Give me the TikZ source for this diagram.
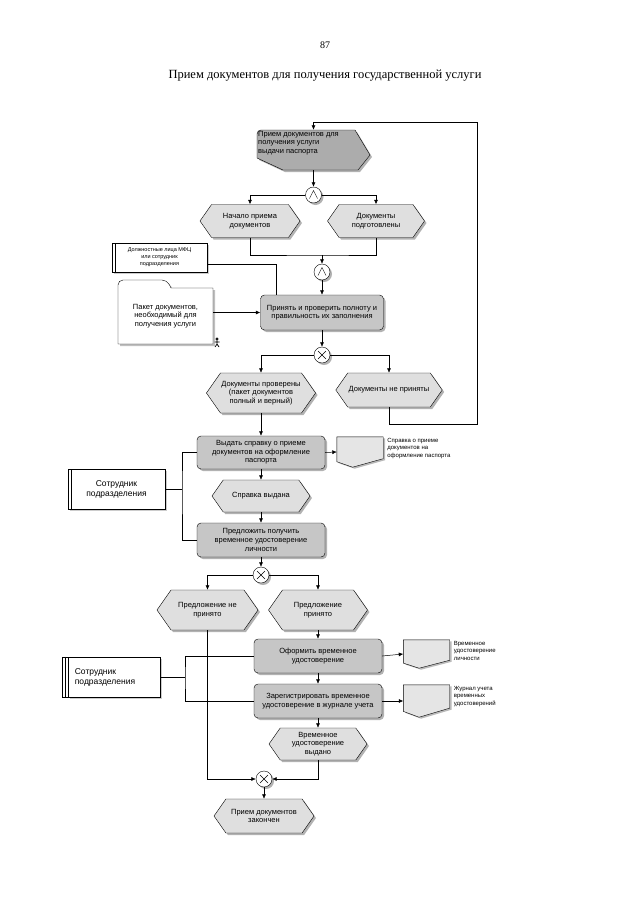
\documentclass[tikz,border=0pt]{standalone}
\usepackage{fontspec}
\setmainfont{Liberation Serif}
\setsansfont{Liberation Sans}
\usetikzlibrary{arrows.meta,shapes.symbols,shadows,calc}

% document symbol drawn on the frame of a node
\newcommand\docshape[1]{%
  \draw[docsty] (#1.north west) -- (#1.north east) -- ($(#1.north east)!0.72!(#1.south east)$)
    -- ($(#1.south west)!0.34!(#1.south east)$) -- ($(#1.north west)!0.82!(#1.south west)$) -- cycle;}

\begin{document}
\begin{tikzpicture}[x=1pt,y=-1pt,
    every node/.style={font=\sffamily\fontsize{7.5}{8.6}\selectfont, inner sep=1pt, align=center},
    shad/.style={drop shadow={shadow xshift=2pt,shadow yshift=-2pt,fill=gray!60,opacity=1}},
    event/.style={signal, signal to=west and east, signal pointer angle=110, draw, fill=gray!25, shad},
    func/.style={rectangle, rounded corners=4pt, draw, fill=gray!45, shad},
    gate/.style={circle, draw, fill=white, minimum size=16pt, inner sep=0pt, shad},
    orgu/.style={rectangle, draw, fill=white, drop shadow={shadow xshift=1.5pt,shadow yshift=-1.5pt,fill=gray!40,opacity=1}},
    docbox/.style={rectangle, minimum width=46pt, inner sep=0pt},
    docsty/.style={draw, fill=gray!20, drop shadow={shadow xshift=2pt,shadow yshift=-1.5pt,fill=gray!55,opacity=1}},
    doctxt/.style={anchor=north west, align=left, font=\sffamily\fontsize{6}{7.5}\selectfont},
    arr/.style={-{Latex[length=4.5pt,width=4pt]}},
    conn/.style={line width=0.5pt}]
  \useasboundingbox (0,0) rectangle (640,905);

  \node[font=\rmfamily\fontsize{10}{12}\selectfont] (pnum) at (325,45) {87};
  \node[font=\rmfamily\fontsize{12.5}{15}\selectfont] (title) at (325,76) {Прием документов для получения государственной услуги};

  % start event
  \draw[fill=gray!65, shad] [rounded corners=4pt] (257,158) -- (257,130) [sharp corners] -- (355,130) -- (370,155) -- (358,170) -- (283,170) -- cycle;
  \node[minimum width=113pt, minimum height=40pt, inner sep=0pt] (start) at (313.5,150) {};
  \node[anchor=north west, align=left, font=\sffamily\fontsize{7.5}{8.5}\selectfont] (starttxt) at (257,130) {Прием документов для\\получения услуги\\выдачи паспорта};

  \node[gate] (g1) at (313.5,195) {};
  \draw (g1.center) ++(-4,3.5) -- ++(4,-8) -- ++(4,8);
  \node[event, minimum width=100pt, minimum height=33pt] (e1) at (250,221) {Начало приема\\документов};
  \node[event, minimum width=97pt, minimum height=33pt] (e2) at (376,221) {Документы\\подготовлены};
  \node[gate] (g2) at (322,272) {};
  \draw (g2.center) ++(-4,3.5) -- ++(4,-8) -- ++(4,8);
  \coordinate (j1) at (322,255);

  \node[orgu, minimum width=95pt, minimum height=29pt, font=\sffamily\fontsize{5.5}{7}\selectfont] (o1) at (159.5,257.5) {Должностные лица МФЦ\\или сотрудник\\подразделения};
  \draw (o1.north west) rectangle ([xshift=3pt]o1.south west);

  % package of documents
  \draw[fill=white, drop shadow={shadow xshift=2pt,shadow yshift=-2pt,fill=gray!50,opacity=1}] [rounded corners=5pt] (118,344) -- (118,280) -- (167,280) [sharp corners] -- (171,288) -- (213,288) -- (213,344) -- cycle;
  \node[minimum width=95pt, minimum height=56pt] (pk) at (165.5,316) {Пакет документов,\\необходимый для\\получения услуги};
  \draw[line width=0.7pt] (217,339) circle (1.2) (217,340) -- (217,344) (214.5,342) -- (219.5,342) (215,347) -- (217,344) -- (219,347);

  \node[func, minimum width=123pt, minimum height=35pt] (f1) at (322,312.5) {Принять и проверить полноту и\\правильность их заполнения};
  \node[gate] (g3) at (322,355) {};
  \draw (g3.center) ++(-4,-4) -- ++(8,8) ++(-8,0) -- ++(8,-8);
  \node[event, minimum width=100pt, minimum height=40pt] (e3) at (261,393) {Документы проверены\\(пакет документов\\полный и верный)};
  \node[event, minimum width=98pt, minimum height=34pt] (e4) at (389,390) {Документы не приняты};
  \coordinate (lp1) at (477,424);
  \coordinate (lp2) at (477,122);

  \node[func, minimum width=128pt, minimum height=33pt] (f2) at (261,452.5) {Выдать справку о приеме\\документов на оформление\\паспорта};
  \node[docbox, minimum height=30pt] (d1) at (360,452) {};
  \docshape{d1}
  \node[doctxt] (d1t) at ([xshift=3pt]d1.north east) {Справка о приеме\\документов на\\оформление паспорта};

  \node[orgu, minimum width=97pt, minimum height=40pt, font=\sffamily\fontsize{8.5}{10}\selectfont] (o2) at (116.5,489) {Сотрудник\\подразделения};
  \draw (o2.north west) rectangle ([xshift=3pt]o2.south west);
  \coordinate (b1) at (182,489);

  \node[event, minimum width=98pt, minimum height=32pt] (e5) at (261,496) {Справка выдана};
  \node[func, minimum width=128pt, minimum height=34pt] (f3) at (261,540) {Предложить получить\\временное удостоверение\\личности};
  \node[gate] (g4) at (261,575) {};
  \draw (g4.center) ++(-4,-4) -- ++(8,8) ++(-8,0) -- ++(8,-8);
  \node[event, minimum width=101pt, minimum height=40pt] (e6) at (207.5,610) {Предложение не\\принято};
  \node[event, minimum width=99pt, minimum height=40pt] (e7) at (318,610) {Предложение\\принято};

  \node[func, minimum width=128pt, minimum height=34pt] (f4) at (318,656) {Оформить временное\\удостоверение};
  \node[docbox, minimum height=28pt] (d2) at (426.5,654) {};
  \docshape{d2}
  \node[doctxt] (d2t) at ([xshift=3pt]d2.north east) {Временное\\удостоверение\\личности};
  \node[func, minimum width=128pt, minimum height=34pt] (f5) at (318,701) {Зарегистрировать временное\\удостоверение в журнале учета};
  \node[docbox, minimum height=32pt] (d3) at (426.5,701) {};
  \docshape{d3}
  \node[doctxt] (d3t) at ([xshift=3pt]d3.north east) {Журнал учета\\временных\\удостоверений};

  \node[orgu, minimum width=92pt, minimum height=40pt, align=left, font=\sffamily\fontsize{8.5}{10}\selectfont] (o3) at (114,677) {Сотрудник\\подразделения\hspace*{18pt}};
  \draw ([xshift=-6pt]o3.north west) rectangle (o3.south west) ([xshift=-3pt]o3.north west) -- ([xshift=-3pt]o3.south west);
  \coordinate (b2) at (185,677);

  \node[event, minimum width=98pt, minimum height=32pt] (e8) at (318,744) {Временное\\удостоверение\\выдано};
  \node[gate] (g5) at (264,779) {};
  \draw (g5.center) ++(-4,-4) -- ++(8,8) ++(-8,0) -- ++(8,-8);
  \node[event, minimum width=100pt, minimum height=34pt] (e9) at (264,816) {Прием документов\\закончен};

  % connectors
  \draw[conn,arr] (e4.south) |- (lp1) -- (lp2) -| (start.north);
  \draw[conn,arr] (start.south) -- (g1.north);
  \draw[conn,arr] (g1.west) -| (e1.north);
  \draw[conn,arr] (g1.east) -| (e2.north);
  \draw[conn] (e1.south) |- (j1) -| (e2.south);
  \draw[conn,arr] (j1) -- (g2.north);
  \draw[conn,arr] (g2.south) -- (f1.north);
  \draw[conn] ([yshift=-6.5pt]o1.east) -| ([xshift=16pt]f1.north west);
  \draw[conn,arr] (pk.east |- f1.west) -- (f1.west);
  \draw[conn,arr] (f1.south) -- (g3.north);
  \draw[conn,arr] (g3.west) -| (e3.north);
  \draw[conn,arr] (g3.east) -| (e4.north);
  \draw[conn,arr] (e3.south) -- (f2.north);
  \draw[conn,arr] (f2.east) -- (d1.west);
  \draw[conn] (o2.east) -- (b1);
  \draw[conn] (f2.west) -| (b1) |- (f3.west);
  \draw[conn,arr] (f2.south) -- (e5.north);
  \draw[conn,arr] (e5.south) -- (f3.north);
  \draw[conn,arr] (f3.south) -- (g4.north);
  \draw[conn,arr] (g4.west) -| (e6.north);
  \draw[conn,arr] (g4.east) -| (e7.north);
  \draw[conn,arr] (e7.south) -- (f4.north);
  \draw[conn,arr] (f4.east) -- (d2.west);
  \draw[conn,arr] (f4.south) -- (f5.north);
  \draw[conn,arr] (f5.east) -- (d3.west);
  \draw[conn] (o3.east) -- (b2);
  \draw[conn] (f4.west) -| (b2) |- (f5.west);
  \draw[conn,arr] (f5.south) -- (e8.north);
  \draw[conn,arr] (e6.south) |- (g5.west);
  \draw[conn,arr] (e8.south) |- (g5.east);
  \draw[conn,arr] (g5.south) -- (e9.north);
\end{tikzpicture}
\end{document}
